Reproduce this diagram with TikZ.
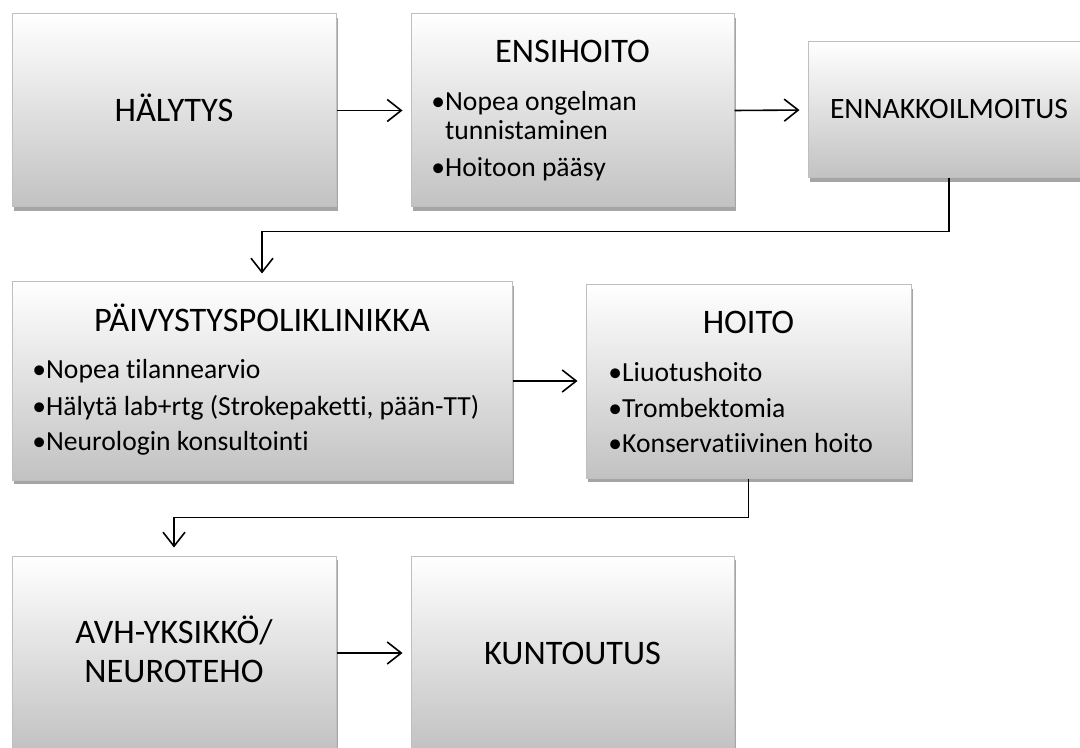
\documentclass[tikz,border=0pt]{standalone}
\usepackage{fontspec}
\setmainfont{Carlito}[Ligatures={NoCommon,NoRequired}]
\usetikzlibrary{arrows.meta,shadows}
\begin{document}
\begin{tikzpicture}[x=0.5pt,y=-0.5pt,
  box/.style={rectangle, draw=black!25, line width=0.5pt, top color=white, bottom color=black!24, inner sep=0pt,
    drop shadow={shadow xshift=1.2pt, shadow yshift=-1.8pt, opacity=0.5, fill=black!70}},
  ttl/.style={anchor=base, inner sep=0pt, font=\fontsize{17.2}{20}\selectfont},
  itm/.style={anchor=base west, inner sep=0pt, font=\fontsize{13.8}{17}\selectfont},
  conn/.style={line width=0.8pt, -{Straight Barb[length=7pt,width=11pt,line width=0.8pt]}, shorten >=4pt}
]
\useasboundingbox (0,0) rectangle (1080,748);
\clip (0,0) rectangle (1080,748);

% boxes
\node[box, minimum width=162pt, minimum height=96.5pt] (hal) at (174,110.5) {};
\node[box, minimum width=161.5pt, minimum height=96.5pt] (ens) at (572.5,110.5) {};
\node[box, minimum width=141pt, minimum height=68pt] (enn) at (949,110) {};
\node[box, minimum width=250pt, minimum height=99pt] (paiv) at (262,381) {};
\node[box, minimum width=162.5pt, minimum height=96.5pt] (hoito) at (748.5,381.5) {};
\node[box, minimum width=162pt, minimum height=97pt] (avh) at (174,653) {};
\node[box, minimum width=161.5pt, minimum height=97pt] (kun) at (572.5,653) {};

% texts
\node[ttl] (halt) at (174,122) {HÄLYTYS};
\node[ttl] (enst) at (572.5,63) {ENSIHOITO};
\node[itm] (ens1) at (431,111) {•Nopea ongelman};
\node[itm] (ens2) at (431,140) {\hphantom{•}tunnistaminen};
\node[itm] (ens3) at (431,177) {•Hoitoon pääsy};
\node[ttl, font=\fontsize{14.8}{18}\selectfont] (ennt) at (949,119) {ENNAKKOILMOITUS};
\node[ttl] (paivt) at (262,332) {PÄIVYSTYSPOLIKLINIKKA};
\node[itm] (paiv1) at (32,379) {•Nopea tilannearvio};
\node[itm] (paiv2) at (32,415) {•Hälytä lab+rtg (Strokepaketti, pään-TT)};
\node[itm] (paiv3) at (32,450) {•Neurologin konsultointi};
\node[ttl] (hoitot) at (748.5,334) {HOITO};
\node[itm] (hoito1) at (608,381) {•Liuotushoito};
\node[itm] (hoito2) at (608,417) {•Trombektomia};
\node[itm] (hoito3) at (608,452) {•Konservatiivinen hoito};
\node[ttl] (avh1) at (174,643) {AVH-YKSIKKÖ/};
\node[ttl] (avh2) at (174,682) {NEUROTEHO};
\node[ttl] (kunt) at (572.5,664) {KUNTOUTUS};

% connectors
\draw[conn] (hal.east) -- (ens.west);
\draw[conn] (ens.east) -- (enn.west);
\draw[conn] (enn.south) -- ++(0,53) -| (paiv.north);
\draw[conn] (paiv.east) -- (paiv.east -| hoito.west);
\draw[conn] (hoito.south) -- ++(0,39) -| (avh.north);
\draw[conn] (avh.east) -- (kun.west);
\end{tikzpicture}
\end{document}
